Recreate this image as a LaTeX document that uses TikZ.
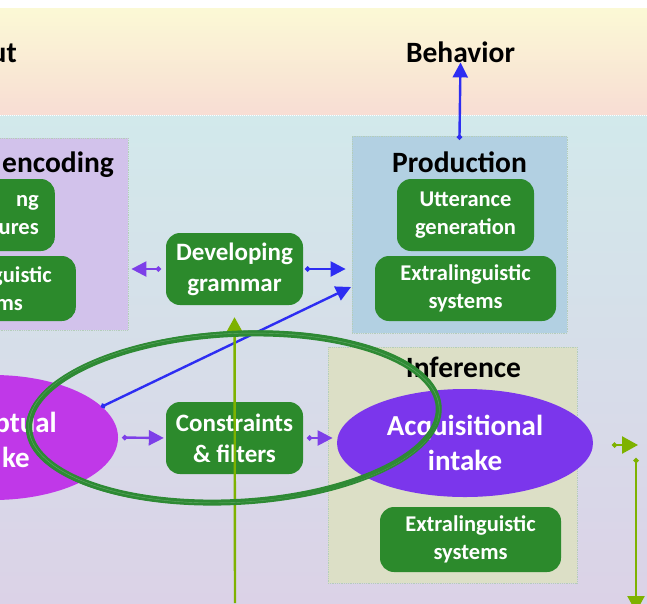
\documentclass[tikz,border=0pt]{standalone}
\usepackage{fontspec}
\setmainfont{Carlito}
\usepackage{tikz}
\usetikzlibrary{arrows.meta,shapes.geometric,calc}
\definecolor{topyellow}{HTML}{FBF9D5}
\definecolor{toppink}{HTML}{F8DDD4}
\definecolor{lowcyan}{HTML}{D2E9EB}
\definecolor{lowlilac}{HTML}{DBD2E7}
\definecolor{panelline}{HTML}{B4CDBA}
\definecolor{encfill}{HTML}{D2C2EB}
\definecolor{prodfill}{HTML}{B2D0E2}
\definecolor{inffill}{HTML}{DCDFC6}
\definecolor{boxgreen}{HTML}{2C8A2C}
\definecolor{percmagenta}{HTML}{C038E8}
\definecolor{acqpurple}{HTML}{7B36EC}
\definecolor{arrpurple}{HTML}{7D3FE8}
\definecolor{arrblue}{HTML}{2D2DF2}
\definecolor{arrolive}{HTML}{7EB200}
\definecolor{sketchgreen}{HTML}{2E8A34}
\tikzset{
  panel/.style={rectangle,draw=panelline,densely dotted,line width=0.8pt,inner sep=0pt},
  gbox/.style={rectangle,rounded corners=14pt,fill=boxgreen,text=white,align=center,font=\fontsize{22.5}{28}\selectfont\bfseries,inner sep=0pt},
  bigbox/.style={gbox,font=\fontsize{25}{31}\selectfont\bfseries},
  title/.style={font=\fontsize{29.5}{35}\selectfont\bfseries,text=black,inner sep=0pt},
  intake/.style={ellipse,inner sep=0pt,text=white,align=center,font=\fontsize{29}{35}\selectfont\bfseries},
  biglabel/.style={font=\fontsize{29}{35}\selectfont\bfseries,text=white,inner sep=0pt},
  arrow/.style={{Circle[length=5pt]}-{Triangle[length=15pt,width=15pt]},line width=2.4pt},
  uparrow/.style={-{Triangle[length=16pt,width=17pt]},line width=2.4pt,draw=arrolive},
  sketch/.style={draw=sketchgreen,line width=6pt}
}
\begin{document}
\begin{tikzpicture}[x=1pt,y=-1pt]
  \useasboundingbox (0,0) rectangle (647,603);
  \fill[white] (0,0) rectangle (647,8);
  \fill[top color=topyellow,bottom color=toppink] (0,8) rectangle (647,115);
  \fill[top color=lowcyan,bottom color=lowlilac] (0,115) rectangle (647,603);
  \draw[white,densely dotted,line width=1pt] (0,115) -- (647,115);

  \node[title,anchor=base east] (inputlbl) at (17,62) {ut};
  \node[title,anchor=base] (behav) at (460.5,62) {Behavior};

  \node[panel,fill=encfill,minimum width=140pt,minimum height=192pt] (enc) at (58,234) {};
  \node[panel,fill=prodfill,minimum width=215pt,minimum height=197pt] (prod) at (459.5,234.5) {};
  \node[panel,fill=inffill,minimum width=249pt,minimum height=236pt] (inf) at (452.5,465) {};

  \node[title,anchor=base east] (enctitle) at (114,172) {encoding};
  \node[title,anchor=base] (prodtitle) at (459.5,172) {Production};
  \node[title,anchor=base] (inftitle) at (463.5,377) {Inference};

  \node[gbox,anchor=east,text width=80pt,align=right,inner xsep=16pt,minimum height=72pt] (parse) at (55,215) {ng\\ures};
  \node[gbox,anchor=east,text width=80pt,align=right,inner xsep=24pt,minimum height=65pt] (encextra) at (76,288.5) {guistic\\ms\hspace*{29pt}};
  \node[gbox,minimum width=137pt,minimum height=72pt] (utter) at (465.5,215) {Utterance\\generation};
  \node[gbox,minimum width=181pt,minimum height=65pt] (prodextra) at (465.5,288.5) {Extralinguistic\\systems};
  \node[bigbox,minimum width=137pt,minimum height=72pt] (grammar) at (234.5,269) {Developing\\grammar};
  \node[bigbox,minimum width=137pt,minimum height=72pt] (constr) at (234.5,438) {Constraints\\\& filters};
  \node[gbox,minimum width=181pt,minimum height=65pt] (infextra) at (470.5,539.5) {Extralinguistic\\systems};

  \node[intake,fill=percmagenta,minimum width=250pt,minimum height=125pt] (percint) at (-7,437.5) {};
  \node[biglabel,anchor=east,text width=70pt,align=right] (percintlbl) at (57,440) {ptual\\ke\hspace*{27pt}};
  \node[intake,fill=acqpurple,minimum width=256pt,minimum height=108pt] (acqint) at (465,443) {Acquisitional\\intake};

  \coordinate (pstart) at (101,407);
  \coordinate (prodin) at (351,287);
  \coordinate (gbot) at (235,603);
  \coordinate (outa) at (612,445);
  \coordinate (outb) at (638,445);
  \coordinate (downa) at (636,458);
  \coordinate (downb) at (636,612);

  \draw[arrow,arrblue,shorten <=-4pt] (prod.north) -- (behav.south);
  \draw[arrow,arrpurple,shorten <=5pt,shorten >=3pt] (grammar.west) -- (enc.east |- grammar.west);
  \draw[arrow,arrblue,shorten <=2pt,shorten >=6pt] (grammar.east) -- (prod.west |- grammar.east);
  \draw[arrow,arrblue] (pstart) -- (prodin);
  \draw[arrow,arrpurple,shorten <=4pt,shorten >=2pt] (percint.east) -- (constr.west);
  \draw[arrow,arrpurple,shorten <=4pt,shorten >=-5pt] (constr.east) -- (inf.west |- constr.east);
  \draw[uparrow,shorten >=12pt] (gbot) -- (grammar.south);
  \draw[uparrow,{Circle[length=5pt]}-{Triangle[length=16pt,width=17pt]}] (outa) -- (outb);
  \draw[uparrow,{Circle[length=5pt]}-{Triangle[length=16pt,width=17pt]}] (downa) -- (downb);

  \draw[sketch,rotate around={3:(234,418)}] (234,418) ellipse [x radius=205,y radius=84];
  \draw[sketch,line width=0.4pt,draw=sketchgreen!75!white,rotate around={2.7:(234,418)}] (234,418) ellipse [x radius=205.5,y radius=84.5];
  \draw[sketch,line width=1pt,rotate around={3.4:(233.5,417.5)}] (233.5,417.5) ellipse [x radius=207.5,y radius=86];
\end{tikzpicture}
\end{document}
